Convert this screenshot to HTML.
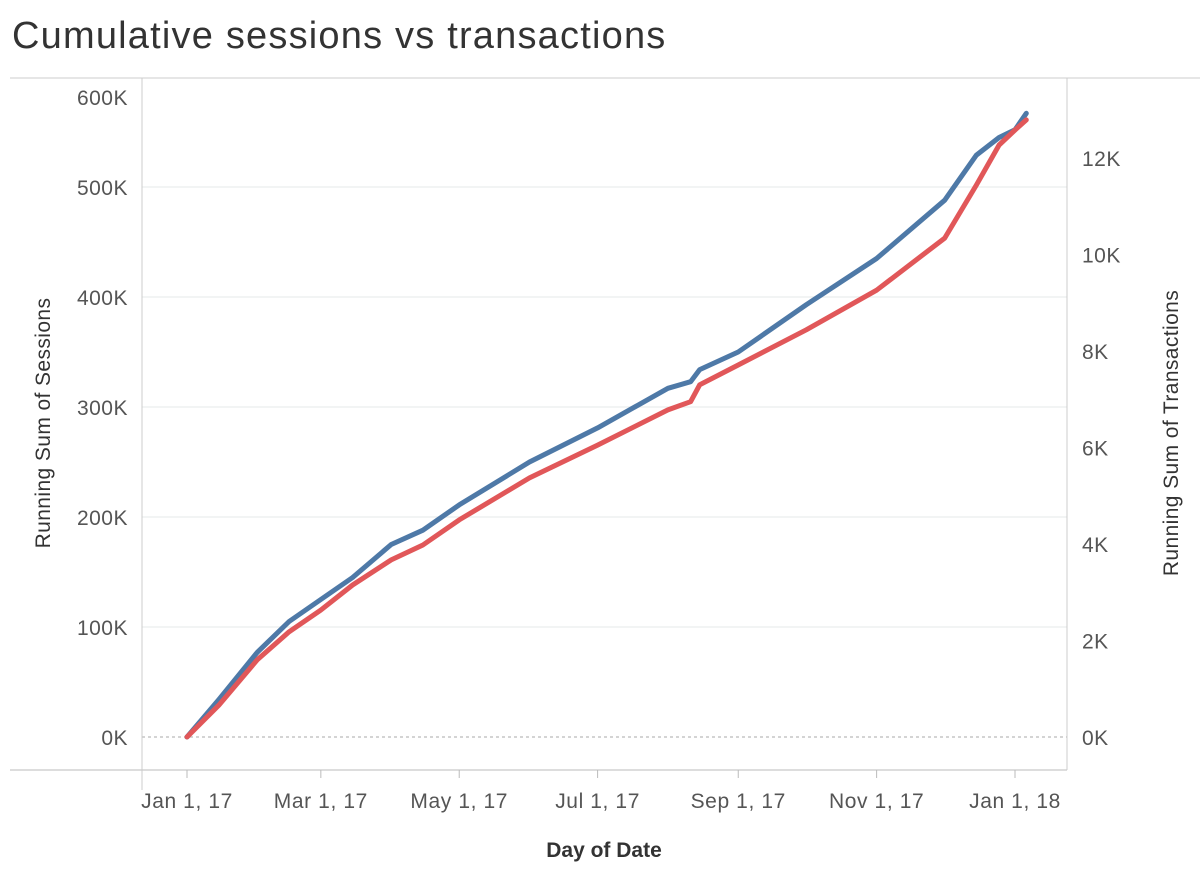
<!DOCTYPE html>
<html><head><meta charset="utf-8"><style>
body{margin:0;background:#fff;}
svg{display:block;font-family:"Liberation Sans",sans-serif;}
</style></head><body>
<svg id="chart" width="1204" height="888">
<text x="12" y="48" font-size="38" letter-spacing="1.2" fill="#333">Cumulative sessions vs transactions</text>
<g id="grid"></g><g id="axes"></g><g id="lines"></g>
<text transform="translate(50,423) rotate(-90)" text-anchor="middle" font-size="21" letter-spacing="0.4" fill="#333">Running Sum of Sessions</text>
<text transform="translate(1178,433) rotate(-90)" text-anchor="middle" font-size="21" letter-spacing="0.4" fill="#333">Running Sum of Transactions</text>
<text x="604" y="857" text-anchor="middle" font-size="21" font-weight="bold" fill="#333">Day of Date</text>
</svg>
<script>
const dayIdx=[0,14,31,45,59,73,90,104,120,151,181,212,222,226,243,273,304,334,348,358,365,370];
const sessions=[0,34,77,105,125,145,175,188,211,250,281,317,323,334,350,393,435,488,529,545,552,567];
const transactions=[0,0.66,1.6,2.18,2.63,3.15,3.67,3.98,4.5,5.37,6.05,6.78,6.95,7.3,7.71,8.44,9.26,10.34,11.44,12.27,12.58,12.79];
const leftTicks=[0,100,200,300,400,500,600];
const rightTicks=[0,2,4,6,8,10,12];
const xTickDays=[0,59,120,181,243,304,365];
const xTickLabels=["Jan 1, 17","Mar 1, 17","May 1, 17","Jul 1, 17","Sep 1, 17","Nov 1, 17","Jan 1, 18"];
const ns="http://www.w3.org/2000/svg";
const X=d=>187+d*(1015-187)/365;
const YL=v=>737-v*1.1;
const YR=v=>737-v*48.25;
function mk(t,a,p){const e=document.createElementNS(ns,t);for(const k in a)e.setAttribute(k,a[k]);p.appendChild(e);return e;}
const grid=document.getElementById('grid'),axes=document.getElementById('axes'),lines=document.getElementById('lines');
leftTicks.forEach(v=>{if(v>0&&v<600){const l=mk('line',{x1:142,x2:1067,y1:YL(v),y2:YL(v),stroke:'#eef0f0','stroke-width':1.5},grid);

}
const t=mk('text',{x:128,y:Math.max(YL(v),97)+8,'text-anchor':'end','font-size':21,'letter-spacing':0.5,fill:'#555'},axes);t.textContent=v+'K';

});
rightTicks.forEach(v=>{const t=mk('text',{x:1082,y:YR(v)+8,'font-size':21,'letter-spacing':0.5,fill:'#555'},axes);t.textContent=v+'K';

});
mk('line',{x1:142,x2:1067,y1:737,y2:737,stroke:'#aaa','stroke-dasharray':'3,3'},grid);
mk('line',{x1:10,x2:1200,y1:78,y2:78,stroke:'#ccc'},axes);
mk('line',{x1:10,x2:1067,y1:770,y2:770,stroke:'#bbb'},axes);
mk('line',{x1:142,x2:142,y1:78,y2:790,stroke:'#ccc'},axes);
mk('line',{x1:1067,x2:1067,y1:78,y2:770,stroke:'#ccc'},axes);
xTickDays.forEach((d,i)=>{mk('line',{x1:X(d),x2:X(d),y1:770,y2:778,stroke:'#bbb'},axes);
const t=mk('text',{x:X(d),y:808,'text-anchor':'middle','font-size':21,'letter-spacing':0.6,fill:'#555'},axes);t.textContent=xTickLabels[i];

});
function path(vals,Y){return vals.map((v,i)=>(i?'L':'M')+X(dayIdx[i]).toFixed(1)+','+Y(v).toFixed(1)).join('');}
const pb=mk('path',{d:path(sessions,YL),fill:'none',stroke:'#4e79a7','stroke-width':5,'stroke-linejoin':'round','stroke-linecap':'round'},lines);


const pr=mk('path',{d:path(transactions,YR),fill:'none',stroke:'#e15759','stroke-width':5,'stroke-linejoin':'round','stroke-linecap':'round'},lines);


</script>
</body></html>
